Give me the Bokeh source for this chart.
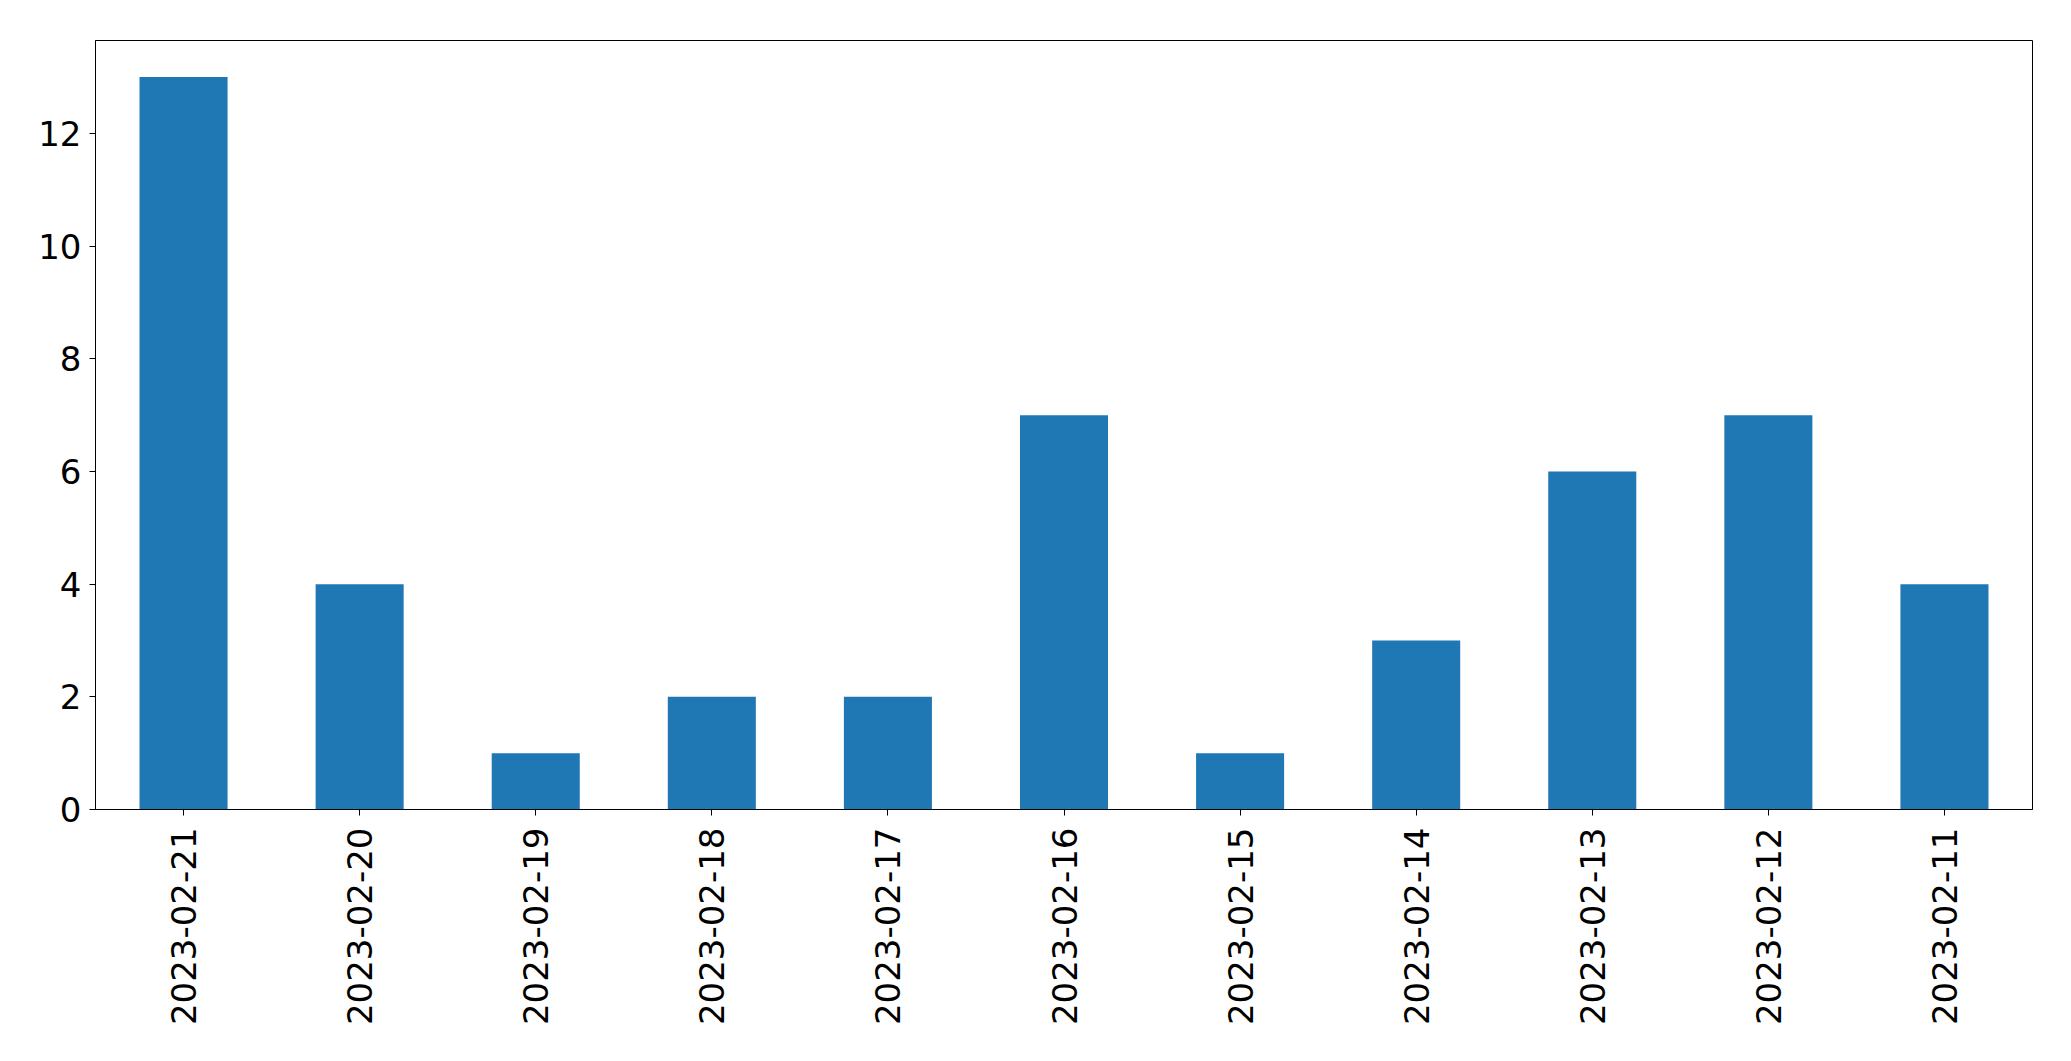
import math
from bokeh.plotting import figure
from bokeh.models import FactorRange, Range1d, FixedTicker, ColumnDataSource
from bokeh.embed import file_html
from bokeh.resources import INLINE

dates = ["2023-02-21", "2023-02-20", "2023-02-19", "2023-02-18", "2023-02-17",
         "2023-02-16", "2023-02-15", "2023-02-14", "2023-02-13", "2023-02-12",
         "2023-02-11"]
counts = [13, 4, 1, 2, 2, 7, 1, 3, 6, 7, 4]
y_ticks = [0, 2, 4, 6, 8, 10, 12]

src = ColumnDataSource(dict(x=dates, top=counts))

p = figure(width=2048, height=1048, output_backend="svg", toolbar_location=None,
           x_range=FactorRange(factors=dates, range_padding=0),
           y_range=Range1d(0, 13.65))
p.min_border_left = 95
p.min_border_right = 16
p.min_border_top = 40
p.min_border_bottom = 239

p.vbar(x="x", top="top", width=0.5, source=src, fill_color="#1f77b4", line_color=None)

p.xgrid.visible = False
p.ygrid.visible = False
p.outline_line_color = "black"
p.outline_line_width = 1
p.outline_line_alpha = 1

for ax in (p.xaxis[0], p.yaxis[0]):
    ax.major_label_text_font = "DejaVu Sans"
    ax.major_label_text_font_size = "34px"
    ax.major_label_text_color = "black"
    ax.major_tick_out = 6
    ax.major_tick_in = 0
    ax.minor_tick_out = 0
    ax.minor_tick_in = 0
    ax.axis_line_color = "black"
    ax.major_tick_line_color = "black"

p.yaxis[0].ticker = FixedTicker(ticks=y_ticks)
p.yaxis[0].major_label_standoff = 8
p.xaxis[0].major_label_orientation = math.pi / 2
p.xaxis[0].major_label_standoff = 12

open("out.html", "w").write(file_html(p, INLINE))
